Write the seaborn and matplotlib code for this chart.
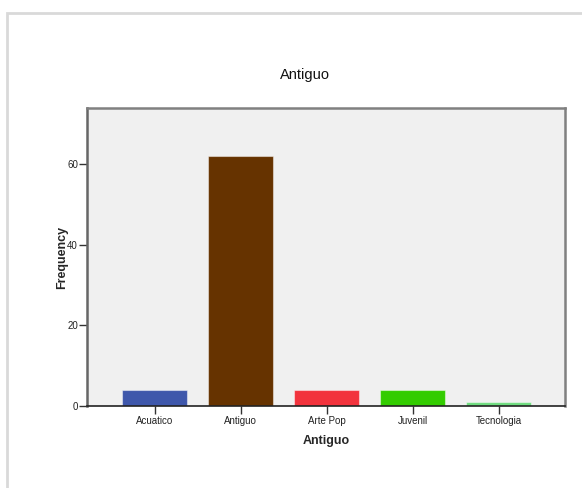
import matplotlib
matplotlib.use("Agg")
import matplotlib.pyplot as plt
import matplotlib.patches as mpatches
import seaborn as sns
import pandas as pd

categories = ["Acuatico", "Antiguo", "Arte Pop", "Juvenil", "Tecnologia"]
frequencies = [4, 62, 4, 4, 1]
bar_colors = ["#3e57ab", "#663300", "#f2333d", "#33cc00", "#6fdc7f"]
y_ticks = [0, 20, 40, 60]

sns.set_style("white")
plt.rcParams["font.family"] = ["Liberation Sans", "DejaVu Sans"]

df = pd.DataFrame({"Antiguo": categories, "Frequency": frequencies})

fig = plt.figure(figsize=(5.82, 4.88), dpi=100)
fig.patch.set_facecolor("white")

# light outer frame around the chart panel
frame = mpatches.Rectangle((7 / 582, -0.05), 1.2, 1 - 13.5 / 488 + 0.05,
                           transform=fig.transFigure, fill=False,
                           edgecolor="#d9d9d9", linewidth=2)
fig.add_artist(frame)

ax = fig.add_axes([87 / 582, 82 / 488, (565 - 87) / 582, (406 - 108) / 488])
ax.set_facecolor("#f0f0f0")

sns.barplot(data=df, x="Antiguo", y="Frequency", hue="Antiguo",
            palette=bar_colors, order=categories, hue_order=categories,
            width=0.756, legend=False, ax=ax, saturation=1,
            edgecolor=(1, 1, 1, 0.45), linewidth=0.8)

ax.set_xlim(-0.785, 4.773)
ax.set_ylim(0, 73.9)
ax.set_yticks(y_ticks)
ax.set_yticklabels([str(t) for t in y_ticks])

ax.tick_params(axis="both", direction="out", length=5.5, width=1,
               labelsize=7, labelcolor="#222222", color="#333333",
               bottom=True, left=True)
ax.tick_params(axis="y", pad=1)
ax.tick_params(axis="x", pad=1.5)

for side in ["top", "right"]:
    ax.spines[side].set_color("#808080")
    ax.spines[side].set_linewidth(1.8)
ax.spines["left"].set_color("#666666")
ax.spines["left"].set_linewidth(1.8)
ax.spines["bottom"].set_color("#222222")
ax.spines["bottom"].set_linewidth(1.2)

ax.set_xlabel("Antiguo", fontsize=9, fontweight="bold", labelpad=7)
ax.set_ylabel("Frequency", fontsize=9, fontweight="bold", labelpad=-1)

fig.text(305 / 582, 1 - 75 / 488, "Antiguo", ha="center", va="center",
         fontsize=10.5, color="#111111")

fig.savefig("out.png", dpi=100)
